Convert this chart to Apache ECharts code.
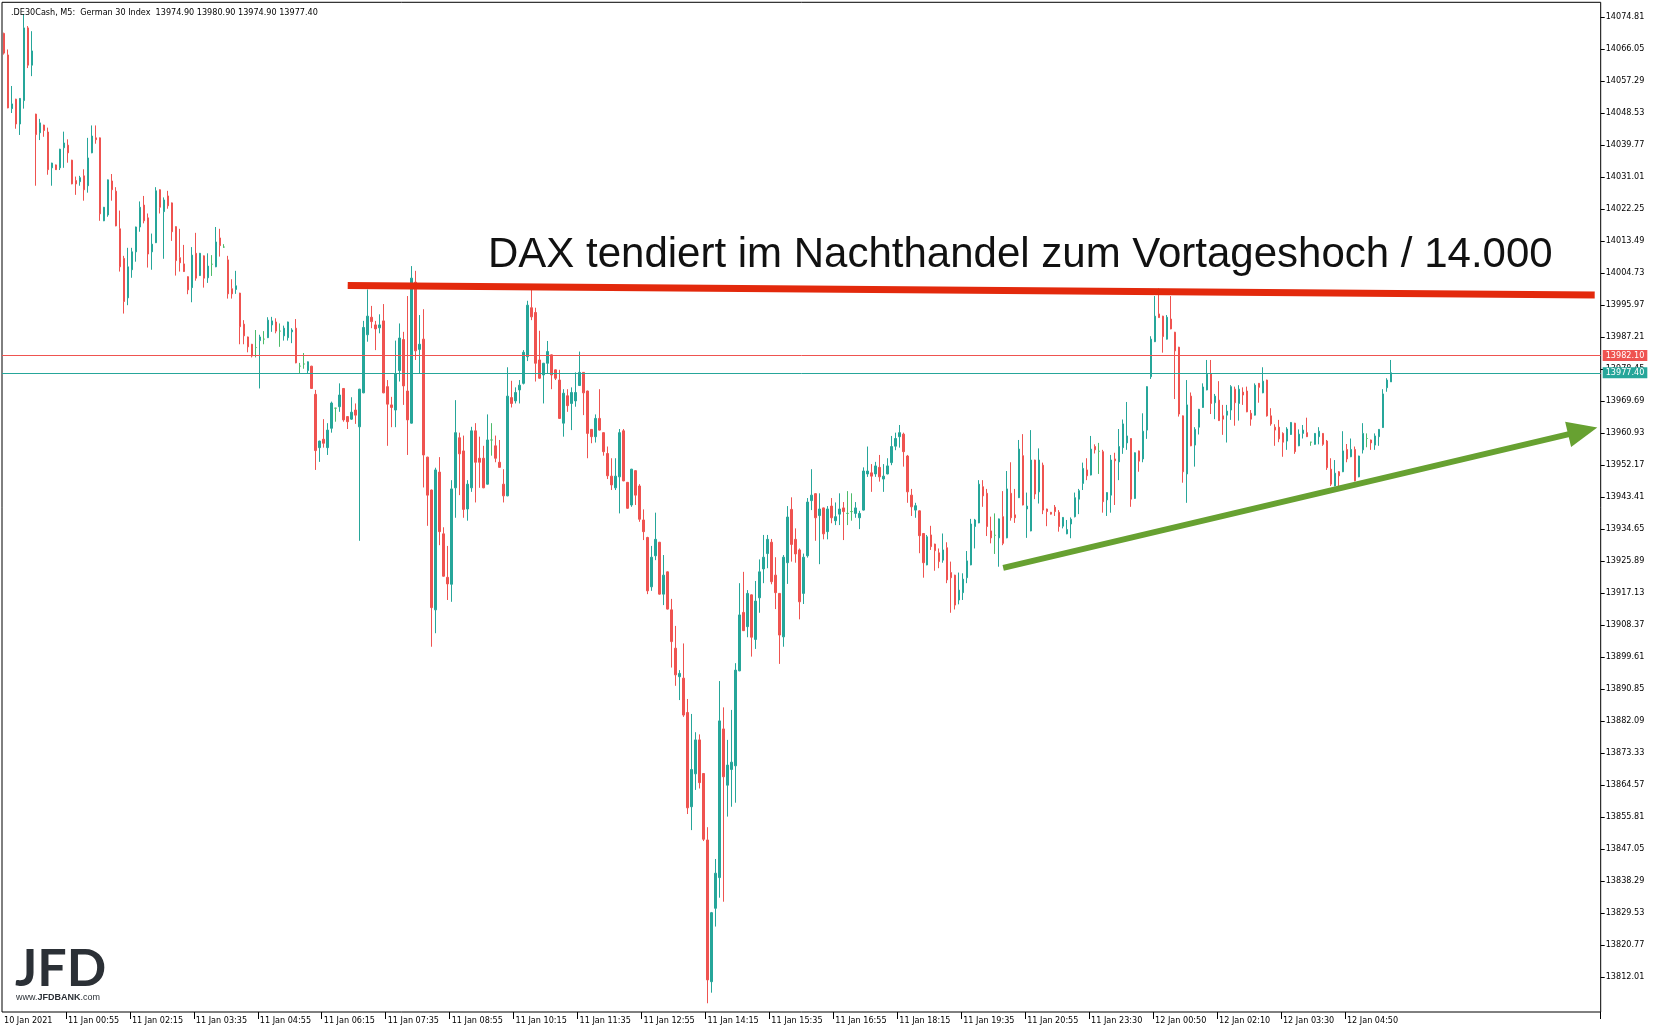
<!DOCTYPE html>
<html><head><meta charset="utf-8">
<script src="https://cdn.jsdelivr.net/npm/echarts@6/dist/echarts.min.js"></script>
<style>html,body{margin:0;padding:0;background:#fff}#c{width:1658px;height:1030px}</style>
</head><body><div id="c"></div><script>
const openP=[
14070.3,14064.4,14049.7,14052.3,14045.5,14051.9,14071.8,14061.6,14048.2,14043.1,14045.2,14043.3,
14033.5,14034.3,14033.5,14039.0,14039.7,14035.6,14030.0,14029.7,14031.3,14028.6,14037.6,14041.7,
14041.7,14019.0,14020.6,14029.9,14027.1,14016.8,14008.7,13997.9,14005.6,14010.5,14017.3,14023.3,
14019.8,14010.5,14013.0,14027.5,14021.5,14025.8,14023.9,14017.4,14008.9,14007.2,14003.7,14000.7,
14010.1,14004.0,14009.4,14003.4,14007.1,14006.4,14014.3,14011.8,14008.3,14000.4,14000.2,13999.2,
13990.7,13987.2,13985.2,13984.3,13986.2,13986.6,13987.0,13990.5,13991.3,13988.8,13987.5,13987.0,
13988.6,13989.6,13979.2,13979.8,13978.0,13979.2,13971.5,13956.9,13959.2,13956.9,13962.2,13967.7,
13968.1,13973.1,13965.4,13964.7,13967.2,13962.6,13971.9,13987.8,13992.6,13990.5,13989.7,13991.6,
13973.6,13968.6,13967.2,13978.0,13986.5,13972.4,13963.6,14002.2,13983.8,13986.6,13954.3,13945.3,
13912.5,13950.2,13933.3,13921.4,13919.5,13945.9,13959.6,13956.0,13940.1,13945.9,13961.5,13954.0,
13954.0,13946.9,13959.0,13957.4,13952.9,13946.9,13943.7,13970.6,13969.7,13972.7,13974.5,13981.8,
13995.2,13993.9,13980.9,13976.8,13980.0,13982.3,13978.2,13975.4,13963.6,13971.1,13969.0,13969.7,
13973.9,13977.5,13972.4,13961.9,13959.9,13964.9,13961.0,13955.3,13949.1,13945.9,13948.9,13961.5,
13947.4,13941.2,13950.6,13946.4,13937.1,13932.3,13918.8,13927.3,13931.0,13916.8,13922.9,13912.5,
13902.0,13894.2,13893.8,13884.4,13858.6,13867.6,13876.9,13867.7,13849.5,13810.7,13830.8,13839.2,
13879.9,13864.5,13868.8,13869.8,13895.8,13911.8,13907.9,13916.6,13904.4,13915.8,13923.7,13927.9,
13931.0,13922.0,13917.0,13905.1,13925.4,13940.0,13931.8,13928.9,13917.0,13927.3,13942.4,13944.3,
13938.3,13940.4,13933.9,13940.9,13936.9,13938.7,13940.4,13938.9,13939.4,13938.9,13937.7,13939.8,
13949.7,13950.0,13949.7,13951.5,13948.3,13949.7,13952.8,13957.3,13959.9,13960.6,13954.6,13943.9,
13939.8,13939.6,13933.4,13924.8,13933.0,13930.5,13928.1,13926.1,13929.5,13922.7,13922.0,13915.2,
13917.2,13921.3,13924.8,13935.3,13936.3,13946.2,13944.4,13934.1,13932.9,13932.2,13938.0,13932.2,
13944.4,13938.5,13943.2,13954.7,13940.1,13934.1,13953.5,13944.8,13952.1,13940.1,13939.2,13940.6,
13939.2,13935.4,13933.3,13936.0,13938.0,13942.8,13947.1,13950.8,13949.4,13957.2,13955.9,13955.8,
13942.6,13943.9,13953.8,13953.0,13956.9,13958.2,13959.4,13943.0,13956.0,13953.8,13961.7,13976.3,
13985.9,13993.5,13992.9,13986.6,13992.1,13988.5,13984.4,13965.6,13949.7,13971.0,13957.6,13962.5,
13967.9,13972.7,13977.1,13969.2,13969.9,13965.6,13965.8,13967.2,13972.9,13969.0,13972.1,13972.4,
13966.3,13965.8,13974.5,13971.9,13975.4,13965.6,13962.5,13962.5,13960.8,13958.7,13960.5,13963.6,
13957.4,13960.8,13961.0,13958.4,13957.8,13959.9,13960.8,13958.7,13951.0,13946.4,13950.3,13950.3,
13956.4,13954.4,13956.4,13948.9,13956.3,13959.4,13959.0,13957.6,13959.9,13962.4,13973.3,13974.9];
const closeP=[
14064.9,14049.9,14051.0,14045.5,14052.5,14071.8,14061.6,14065.5,14042.6,14045.8,14043.7,14033.0,
14034.8,14033.0,14038.6,14040.3,14037.6,14029.1,14029.1,14030.8,14027.5,14036.2,14042.2,14041.2,
14020.9,14022.7,14030.2,14027.5,14017.6,14006.4,13996.9,14006.4,14010.5,14017.3,14022.7,14019.0,
14009.9,14012.6,14027.2,14022.7,14024.7,14023.1,14016.0,14008.1,14007.5,14005.1,14000.1,14009.6,
14003.3,14010.1,14003.3,14006.6,14007.1,14013.2,14012.2,14011.8,13999.0,13999.0,14001.2,13990.0,
13987.5,13984.5,13982.0,13984.3,13987.2,13986.6,13991.8,13991.6,13988.8,13988.8,13989.6,13991.3,
13989.1,13980.1,13979.2,13979.8,13980.4,13973.1,13956.1,13958.7,13958.1,13961.7,13969.1,13967.7,
13971.3,13964.5,13964.0,13966.6,13965.8,13972.9,13989.8,13992.9,13991.4,13989.4,13990.5,13971.9,
13968.8,13967.9,13977.1,13986.9,13973.8,13964.5,14003.3,13983.4,13985.2,13954.9,13943.9,13913.1,
13950.8,13933.9,13921.7,13919.6,13945.6,13961.0,13955.2,13940.0,13946.9,13961.5,13952.9,13952.9,
13945.9,13959.0,13959.0,13954.0,13951.5,13943.7,13971.0,13969.0,13972.0,13974.0,13983.0,13995.9,
13992.7,13980.0,13975.9,13980.0,13983.2,13976.8,13975.9,13964.9,13971.8,13968.4,13972.0,13972.0,
13977.5,13971.9,13960.8,13959.9,13964.9,13961.7,13955.8,13949.2,13946.7,13949.1,13961.0,13947.8,
13940.3,13951.0,13943.9,13937.3,13933.9,13917.7,13926.9,13931.8,13916.8,13922.0,13912.7,13903.8,
13894.7,13895.1,13883.7,13858.3,13868.8,13876.9,13865.2,13849.7,13811.2,13829.6,13840.4,13882.1,
13866.8,13870.0,13870.8,13896.0,13911.1,13906.8,13917.0,13905.0,13914.9,13922.9,13926.9,13931.8,
13920.2,13917.2,13905.6,13926.9,13937.9,13930.4,13927.8,13914.7,13926.9,13942.0,13943.9,13937.7,
13940.1,13933.3,13940.1,13937.7,13938.0,13940.1,13939.4,13938.9,13939.4,13940.4,13938.9,13950.5,
13950.5,13949.1,13951.9,13948.9,13949.1,13951.9,13957.2,13959.4,13961.0,13955.8,13944.8,13940.7,
13941.0,13932.8,13925.4,13932.5,13929.8,13928.7,13925.7,13928.9,13920.7,13921.3,13913.8,13917.9,
13920.9,13925.9,13936.0,13937.1,13946.9,13943.7,13935.3,13932.2,13932.9,13937.4,13930.7,13945.6,
13937.7,13937.7,13956.5,13941.2,13940.9,13953.5,13944.2,13953.5,13939.8,13939.4,13938.7,13939.4,
13935.3,13937.8,13934.5,13937.3,13943.2,13945.1,13951.2,13949.2,13956.5,13956.3,13955.9,13942.1,
13944.6,13953.5,13953.3,13957.2,13963.4,13960.1,13942.8,13955.5,13953.2,13961.4,13973.6,13986.6,
13992.9,13992.5,13987.3,13992.6,13989.4,13983.4,13966.1,13950.3,13968.6,13957.4,13961.9,13967.4,
13973.5,13977.0,13969.0,13971.0,13964.3,13964.7,13966.9,13973.6,13969.2,13972.9,13971.3,13966.7,
13964.7,13974.0,13973.4,13975.1,13965.6,13963.4,13961.7,13959.3,13958.4,13962.0,13963.8,13955.8,
13960.6,13961.7,13959.9,13958.4,13960.8,13961.4,13957.8,13951.4,13946.9,13949.9,13949.2,13956.0,
13953.8,13956.4,13947.8,13954.6,13960.8,13959.4,13958.2,13960.1,13961.9,13971.6,13975.4,13977.4];
const lowP=[
14064.5,14049.8,14048.5,14044.2,14042.5,14049.7,14060.8,14058.6,14028.6,14041.1,14042.0,14031.6,
14028.6,14032.9,14032.9,14033.5,14034.9,14029.0,14026.1,14028.6,14024.5,14026.7,14037.5,14040.1,
14019.0,14018.9,14020.1,14024.5,14017.5,14005.1,13993.6,13995.9,14003.4,14007.8,14016.0,14018.3,
14006.2,14005.6,14012.9,14021.0,14008.6,14022.3,14013.5,14004.0,14005.1,14005.0,13998.9,13996.7,
14002.6,14003.9,14000.7,14002.0,14003.9,14006.3,14009.2,14011.6,13997.7,13997.7,13999.0,13985.2,
13985.2,13983.0,13981.6,13981.6,13973.1,13985.2,13986.9,13988.6,13988.2,13984.5,13986.2,13986.2,
13985.5,13980.0,13977.2,13978.5,13977.2,13973.0,13950.8,13953.0,13956.9,13954.9,13961.0,13964.0,
13966.7,13964.0,13962.0,13964.5,13963.4,13931.4,13971.8,13985.9,13989.6,13983.6,13988.2,13971.8,
13957.4,13962.5,13962.5,13975.0,13968.6,13954.9,13963.5,13980.9,13977.2,13946.0,13935.5,13902.4,
13906.1,13930.2,13921.6,13915.2,13914.7,13937.7,13943.9,13937.7,13936.9,13944.8,13941.9,13945.9,
13945.8,13946.8,13954.7,13952.9,13951.4,13941.9,13943.6,13967.9,13969.0,13969.0,13974.2,13980.6,
13991.8,13975.0,13975.8,13969.0,13977.2,13972.9,13975.4,13964.8,13959.9,13966.7,13961.7,13968.1,
13973.8,13965.8,13954.0,13958.1,13958.3,13961.6,13954.7,13948.3,13945.3,13945.3,13938.9,13947.7,
13940.2,13940.7,13941.2,13936.6,13931.6,13916.8,13917.7,13926.1,13916.7,13913.8,13912.6,13896.7,
13891.7,13887.8,13883.2,13856.6,13852.2,13863.2,13863.6,13849.2,13804.8,13807.7,13825.8,13833.7,
13832.6,13855.9,13858.6,13859.7,13895.7,13906.7,13905.0,13899.7,13901.8,13911.7,13919.8,13923.9,
13919.5,13912.7,13897.7,13902.4,13919.6,13925.7,13925.4,13909.9,13914.1,13926.8,13939.8,13931.4,
13925.0,13931.8,13931.8,13936.2,13935.7,13935.7,13931.6,13935.7,13936.9,13937.7,13934.6,13939.7,
13948.9,13944.8,13948.9,13947.6,13944.8,13949.6,13952.1,13956.2,13956.9,13951.7,13941.8,13938.2,
13937.7,13928.0,13921.3,13924.7,13928.9,13923.2,13923.9,13925.4,13919.8,13911.7,13912.6,13914.0,
13915.2,13919.8,13924.7,13929.3,13936.2,13940.7,13932.7,13930.7,13927.8,13924.3,13930.2,13932.1,
13936.9,13936.3,13943.1,13941.1,13932.2,13934.0,13942.8,13941.6,13938.7,13935.4,13938.6,13938.2,
13933.9,13934.8,13933.2,13932.1,13937.8,13938.7,13945.3,13948.0,13949.3,13955.3,13949.7,13939.1,
13938.2,13939.1,13941.2,13948.0,13955.2,13956.3,13940.7,13942.9,13950.3,13952.9,13959.3,13975.7,
13985.8,13992.4,13982.9,13986.5,13989.3,13970.2,13965.4,13947.3,13941.8,13957.3,13951.7,13960.5,
13967.8,13972.6,13966.1,13964.7,13964.2,13960.4,13958.3,13964.5,13962.9,13964.3,13968.6,13966.6,
13962.9,13965.7,13969.2,13971.8,13965.4,13962.9,13957.4,13958.4,13954.4,13956.3,13960.4,13955.2,
13957.3,13959.4,13959.8,13957.4,13957.7,13957.8,13957.4,13950.8,13946.4,13946.3,13946.2,13950.2,
13952.9,13954.3,13947.7,13948.8,13955.3,13957.0,13956.3,13956.3,13957.4,13962.3,13972.2,13974.9];
const highP=[
14070.5,14065.9,14055.9,14052.4,14052.6,14075.6,14072.3,14070.9,14048.3,14046.9,14045.3,14044.5,
14034.9,14034.4,14038.7,14043.4,14041.3,14035.7,14031.1,14031.3,14033.1,14041.7,14045.1,14045.1,
14041.8,14022.8,14030.3,14031.8,14028.2,14021.8,14009.4,14011.6,14011.6,14017.4,14024.3,14025.8,
14021.0,14015.5,14028.2,14027.6,14025.4,14027.2,14024.0,14017.5,14016.8,14012.4,14003.8,14011.8,
14015.7,14010.2,14009.5,14010.1,14009.6,14017.3,14016.8,14012.6,14009.4,14003.0,14005.3,13999.3,
13991.8,13987.3,13985.3,13989.1,13987.8,13988.8,13992.6,13992.7,13992.3,13990.9,13990.3,13991.4,
13989.6,13992.1,13980.1,13982.8,13980.5,13979.3,13972.7,13958.8,13964.7,13963.6,13969.5,13967.8,
13974.5,13973.2,13965.5,13970.7,13969.0,13973.0,13991.6,14000.2,13995.7,13991.6,13993.4,13996.2,
13975.4,13970.8,13986.2,13990.9,13988.6,13998.4,14006.6,14005.3,13993.2,13994.8,13954.4,13945.4,
13951.4,13954.3,13935.1,13930.0,13948.0,13969.9,13961.0,13960.2,13948.0,13962.6,13963.6,13959.9,
13957.4,13966.0,13963.6,13960.2,13959.0,13951.0,13978.9,13975.2,13973.4,13975.4,13983.6,13997.1,
14000.2,13995.2,13988.9,13980.1,13986.1,13982.4,13978.3,13978.2,13972.9,13972.9,13973.4,13977.5,
13983.2,13977.6,13972.5,13962.0,13966.0,13972.9,13961.1,13957.2,13954.0,13954.0,13962.0,13962.0,
13947.5,13951.1,13950.7,13946.9,13940.0,13932.5,13930.0,13939.1,13931.1,13927.5,13923.0,13915.5,
13908.1,13896.0,13903.3,13888.1,13884.0,13879.0,13878.4,13867.8,13853.0,13829.8,13844.3,13893.0,
13885.8,13876.9,13885.1,13897.9,13919.8,13922.9,13917.9,13916.7,13920.4,13926.3,13933.0,13933.0,
13931.9,13926.9,13917.1,13927.5,13940.9,13943.3,13934.8,13929.3,13927.9,13943.1,13951.0,13944.4,
13944.4,13940.5,13940.9,13943.1,13941.9,13944.4,13942.0,13945.0,13944.4,13942.0,13939.6,13951.5,
13957.2,13952.4,13953.0,13954.9,13952.4,13954.0,13960.1,13961.0,13963.1,13961.0,13954.9,13945.6,
13941.8,13939.7,13933.5,13933.0,13935.5,13930.6,13929.3,13933.4,13931.0,13925.7,13922.1,13922.7,
13922.5,13928.6,13937.4,13937.4,13948.0,13948.0,13945.6,13938.0,13938.9,13937.5,13945.0,13950.5,
13952.9,13945.6,13959.0,13960.6,13944.6,13961.7,13953.6,13956.7,13952.8,13940.2,13939.3,13941.2,
13939.8,13937.9,13937.1,13937.8,13944.6,13945.6,13952.8,13954.0,13960.1,13957.8,13958.2,13956.3,
13944.7,13954.9,13955.5,13962.0,13964.6,13969.4,13959.5,13955.6,13956.1,13966.3,13973.7,13987.4,
13998.4,14000.5,13993.0,13993.2,13998.4,13988.6,13984.5,13965.7,13975.4,13972.0,13962.5,13967.5,
13974.5,13980.9,13980.9,13971.6,13975.1,13968.6,13968.6,13974.0,13973.6,13974.0,13973.4,13973.6,
13967.2,13974.5,13974.6,13978.9,13975.5,13967.7,13963.3,13964.5,13961.1,13962.5,13963.9,13963.7,
13961.9,13963.1,13965.1,13958.5,13960.9,13962.5,13960.9,13959.0,13954.0,13953.5,13950.5,13961.4,
13957.9,13959.4,13957.2,13954.7,13963.6,13960.8,13959.1,13960.8,13962.0,13972.9,13975.9,13980.9];
const yTickLabels=[14074.81,14066.05,14057.29,14048.53,14039.77,14031.01,14022.25,14013.49,14004.73,13995.97,
13987.21,13978.45,13969.69,13960.93,13952.17,13943.41,13934.65,13925.89,13917.13,13908.37,13899.61,13890.85,
13882.09,13873.33,13864.57,13855.81,13847.05,13838.29,13829.53,13820.77,13812.01];
const bidAsk=[13982.10,13977.40];
const resistance=[[86.3,14001.3],[397.6,13998.7]];
const trendArrow=[[249.8,13924.0],[394.6,13961.5]];
const headerText='.DE30Cash, M5:  German 30 Index  13974.90 13980.90 13974.90 13977.40';
const noteText='DAX tendiert im Nachthandel zum Vortageshoch / 14.000';

const UP='#26a69a', DOWN='#ef5350', DOJI='#4cbb6a';
const FONT='"DejaVu Sans Condensed","Liberation Sans Narrow",Tahoma,sans-serif';
const FS=9;
function pad(n){return (n<10?'0':'')+n;}
const categories=[];
let t=Date.UTC(2021,0,10,23,35);
for(let i=0;i<400;i++){
  const d=new Date(t);
  categories.push(d.getUTCDate()+' Jan '+pad(d.getUTCHours())+':'+pad(d.getUTCMinutes()));
  if(d.getUTCDate()===11&&d.getUTCHours()===21&&d.getUTCMinutes()===55) t=Date.UTC(2021,0,11,23,15);
  else t+=300000;
}
const seriesData=openP.map((o,i)=>{
  const v=[o,closeP[i],lowP[i],highP[i]];
  if(o===closeP[i]) return {value:v,itemStyle:{color:DOJI,color0:DOJI,borderColor:DOJI,borderColor0:DOJI}};
  return v;
});
const showTick=(i)=>i%16===0&&i<=336;
const chart=echarts.init(document.getElementById('c'),null,{renderer:'canvas'});
chart.setOption({
  animation:false,
  backgroundColor:'#fff',
  title:{text:headerText,left:6,top:3,textStyle:{fontSize:FS,fontWeight:'normal',color:'#000',fontFamily:FONT}},
  grid:{left:2,right:57.3,top:2.3,bottom:18,show:true,borderColor:'#000',borderWidth:1,backgroundColor:'#fff'},
  xAxis:{type:'category',data:categories,boundaryGap:true,
    axisLine:{show:false},
    axisTick:{show:true,alignWithLabel:false,interval:(i)=>showTick(i)&&i>0,length:7,lineStyle:{color:'#000'}},
    axisLabel:{interval:(i)=>showTick(i),formatter:(v,i)=>i===0?'10 Jan 2021':v,align:'left',margin:4,
      color:'#000',fontSize:FS,fontFamily:FONT},
    splitLine:{show:false}},
  yAxis:{type:'value',position:'right',min:13802.41,max:14078.81,
    axisLine:{show:false},
    axisTick:{show:true,customValues:yTickLabels,length:4,lineStyle:{color:'#000'}},
    axisLabel:{customValues:yTickLabels,formatter:(v)=>Number(v).toFixed(2),margin:5,color:'#000',fontSize:FS,fontFamily:FONT},
    splitLine:{show:false}},
  series:[{
    type:'candlestick',data:seriesData,barWidth:2,large:false,
    itemStyle:{color:UP,color0:DOWN,borderColor:UP,borderColor0:DOWN,borderWidth:1},
    markLine:{silent:true,symbol:['none','none'],animation:false,
      data:[
        {yAxis:bidAsk[0],lineStyle:{color:DOWN,width:1,type:'solid'},
          label:{show:true,position:'end',distance:2,formatter:bidAsk[0].toFixed(2),backgroundColor:DOWN,color:'#fff',padding:[1,3,1,3],fontSize:FS,fontFamily:FONT}},
        {yAxis:bidAsk[1],lineStyle:{color:UP,width:1,type:'solid'},
          label:{show:true,position:'end',distance:2,formatter:bidAsk[1].toFixed(2),backgroundColor:UP,color:'#fff',padding:[1,3,1,3],fontSize:FS,fontFamily:FONT}},
        [{coord:resistance[0],lineStyle:{color:'#e3290c',width:7,type:'solid'},label:{show:false}},{coord:resistance[1]}],
        [{coord:trendArrow[0],lineStyle:{color:'#67a131',width:6,type:'solid'},label:{show:false}},{coord:trendArrow[1],symbol:'triangle',symbolSize:[26,30]}]
      ]}
  }],
  graphic:[
    {type:'text',left:488,top:234,z:100,style:{text:noteText,font:'42px "Liberation Sans",Arial,sans-serif',fill:'#111'}},
    {type:'text',left:15,top:943,z:100,style:{text:'JFD',font:'bold 52px Lato,"Liberation Sans",sans-serif',fill:'#2b3036'}},
    {type:'text',left:16,top:993,z:100,style:{text:'www.{b|JFDBANK}.com',font:'9px "Liberation Sans",sans-serif',fill:'#2b3036',
      rich:{b:{fontWeight:'bold',fontSize:9,fill:'#2b3036'}}}}
  ]
});
</script></body></html>
